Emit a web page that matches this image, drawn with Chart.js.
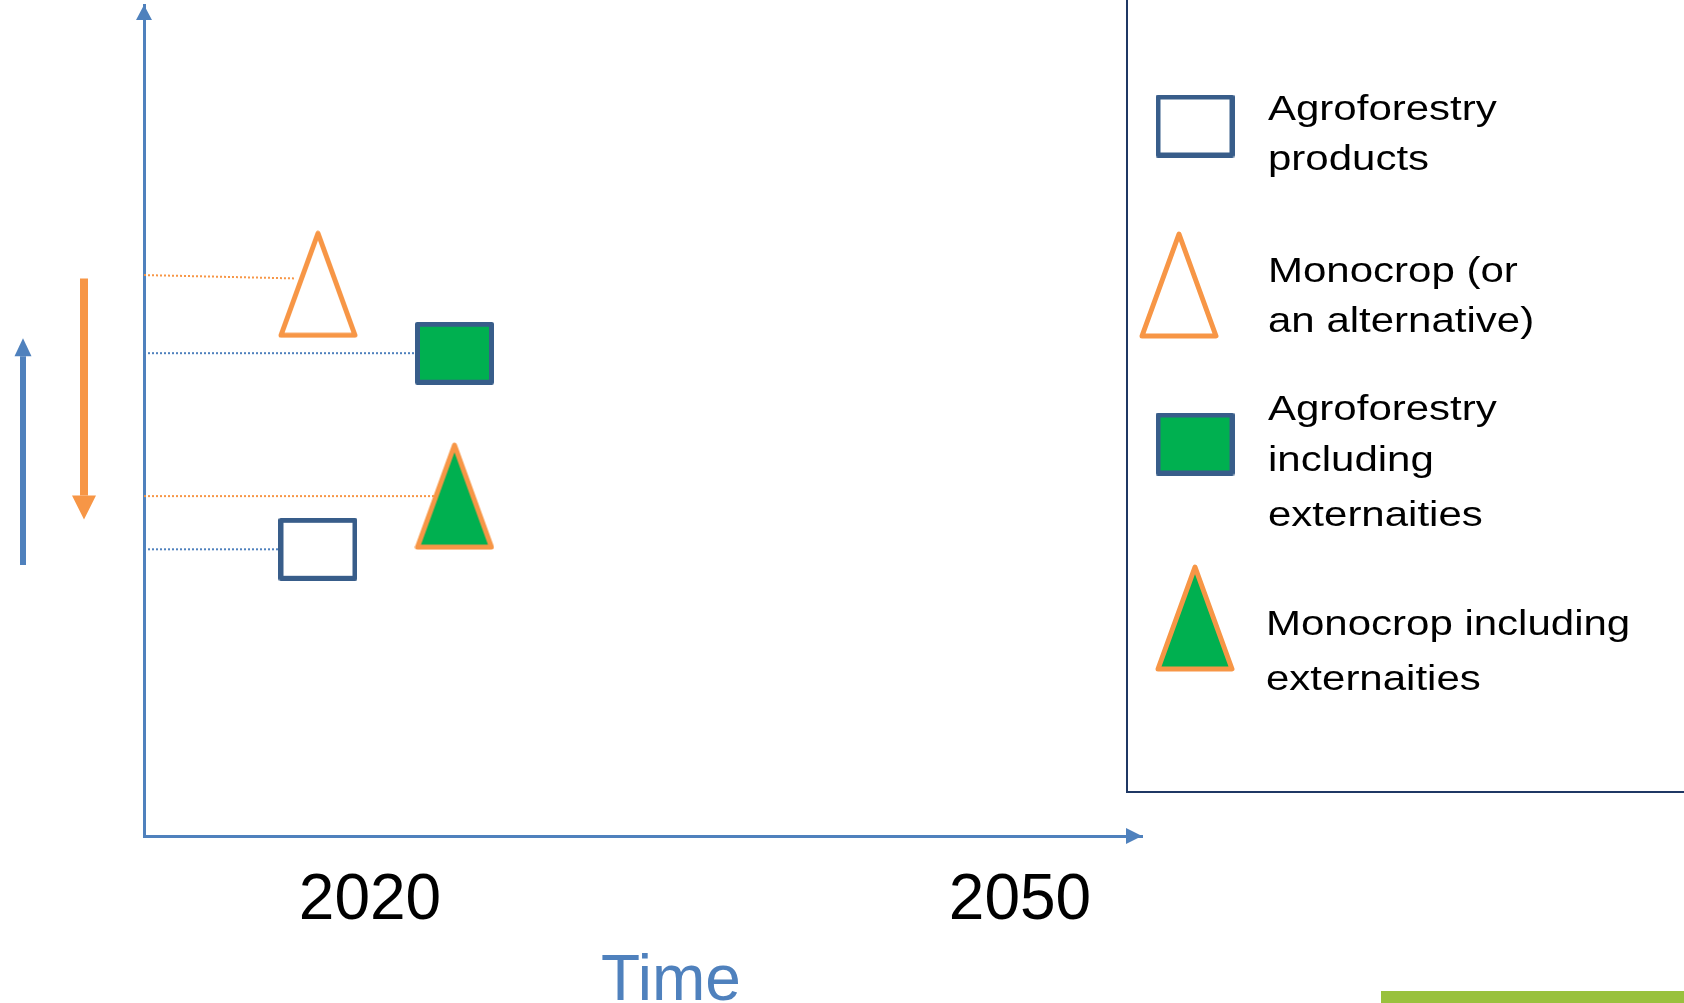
<!DOCTYPE html>
<html>
<head>
<meta charset="utf-8">
<script src="https://cdn.jsdelivr.net/npm/chart.js@4.4.1/dist/chart.umd.min.js"></script>
<style>
    html, body { margin: 0; padding: 0; background: #fff; overflow: hidden; }
    #wrap { width: 1684px; height: 1003px; }
</style>
</head>
<body>
<div id="wrap"><canvas id="myChart" width="1684" height="1003"></canvas></div>
<script>
// chart data
const seriesNames = ['Agroforestry products', 'Monocrop (or an alternative)', 'Agroforestry including externaities', 'Monocrop including externaities'];
const legendLines = [['Agroforestry', 'products'], ['Monocrop (or', 'an alternative)'], ['Agroforestry', 'including', 'externaities'], ['Monocrop including', 'externaities']];
const seriesX = [2017.6, 2017.6, 2023.9, 2023.9];
const seriesY = [34.5, 66.4, 58.1, 40.9];
// dotted guide lines: start at the y axis, end at the marker
const guideStartY = [34.5, 67.5, 58.1, 40.9];
const guideEndY = [34.5, 67.1, 58.1, 40.9];
const guideEndX = [2017.6, 2016.5, 2023.9, 2023.9];
const tickYears = [2020, 2050];
const xRange = [2009.57, 2055.63];
const yRange = [0, 100];
// side arrows (from, to) in y values
const blueArrow = [32.6, 59.9];
const orangeArrow = [67.1, 38.1];

const FONT = "'Liberation Sans', Arial, sans-serif";
const BLUE = '#4F81BD';
const DARKBLUE = '#385D8A';
const ORANGE = '#F79646';
const GREEN = '#00B050';

function makeMarker(shape, fill, stroke) {
    const c = document.createElement('canvas');
    if (shape === 'rect') {
        c.width = 79; c.height = 63;
    } else {
        c.width = 80; c.height = 108;
    }
    const ctx = c.getContext('2d');
    ctx.lineWidth = 5;
    ctx.lineJoin = 'round';
    ctx.strokeStyle = stroke;
    ctx.fillStyle = fill;
    ctx.beginPath();
    if (shape === 'rect') {
        ctx.rect(2.5, 2.5, 74, 58);
    } else {
        ctx.moveTo(40, 3);
        ctx.lineTo(77, 105);
        ctx.lineTo(3, 105);
        ctx.closePath();
    }
    ctx.fill();
    ctx.stroke();
    return c;
}

const markers = [
    makeMarker('rect', '#ffffff', DARKBLUE),
    makeMarker('tri', '#ffffff', ORANGE),
    makeMarker('rect', GREEN, DARKBLUE),
    makeMarker('tri', GREEN, ORANGE)
];
const guideColors = [BLUE, ORANGE, BLUE, ORANGE];

function drawArrow(ctx, x, y1, y2, width, headW, headL, color) {
    const dir = y2 < y1 ? -1 : 1;
    ctx.save();
    ctx.strokeStyle = color;
    ctx.fillStyle = color;
    ctx.lineWidth = width;
    ctx.beginPath();
    ctx.moveTo(x, y1);
    ctx.lineTo(x, y2 - dir * headL);
    ctx.stroke();
    ctx.beginPath();
    ctx.moveTo(x, y2);
    ctx.lineTo(x - headW / 2, y2 - dir * headL);
    ctx.lineTo(x + headW / 2, y2 - dir * headL);
    ctx.closePath();
    ctx.fill();
    ctx.restore();
}

const decorPlugin = {
    id: 'decor',
    afterDraw(chart) {
        const ctx = chart.ctx;
        const area = chart.chartArea;
        const yS = chart.scales.y;

        // axis arrowheads
        ctx.save();
        ctx.fillStyle = BLUE;
        ctx.beginPath();
        ctx.moveTo(area.left, area.top);
        ctx.lineTo(area.left - 8, area.top + 15);
        ctx.lineTo(area.left + 8, area.top + 15);
        ctx.closePath();
        ctx.fill();
        ctx.beginPath();
        ctx.moveTo(area.right, area.bottom);
        ctx.lineTo(area.right - 16, area.bottom - 8);
        ctx.lineTo(area.right - 16, area.bottom + 8);
        ctx.closePath();
        ctx.fill();
        ctx.restore();

        // side arrows
        drawArrow(ctx, area.left - 121, yS.getPixelForValue(blueArrow[0]), yS.getPixelForValue(blueArrow[1]), 6, 17, 18, BLUE);
        drawArrow(ctx, area.left - 60, yS.getPixelForValue(orangeArrow[0]), yS.getPixelForValue(orangeArrow[1]), 8, 24, 24, ORANGE);

        // axis title
        ctx.save();
        ctx.fillStyle = BLUE;
        ctx.font = '64px ' + FONT;
        ctx.textAlign = 'center';
        ctx.textBaseline = 'alphabetic';
        ctx.fillText('Time', 671, 1000);
        ctx.restore();

        // legend box
        ctx.save();
        ctx.strokeStyle = '#1F3864';
        ctx.lineWidth = 2;
        ctx.strokeRect(1127, -10, 600, 802);
        const iconCenters = [[1195, 126], [1179, 285], [1195, 444], [1195, 618]];
        const baselines = [[120, 170], [282, 332], [420, 471, 526], [635, 690]];
        const textX = [1268, 1268, 1268, 1266];
        ctx.fillStyle = '#000';
        ctx.font = '35px ' + FONT;
        ctx.textBaseline = 'alphabetic';
        legendLines.forEach((lines, i) => {
            const m = markers[i];
            ctx.drawImage(m, iconCenters[i][0] - m.width / 2, iconCenters[i][1] - m.height / 2);
            lines.forEach((t, j) => {
                ctx.save();
                ctx.translate(textX[i], baselines[i][j]);
                ctx.scale(1.2, 1);
                ctx.fillText(t, 0, 0);
                ctx.restore();
            });
        });
        ctx.restore();

        // green strip in the corner
        ctx.save();
        ctx.fillStyle = '#99C13D';
        ctx.fillRect(1381, 991, 303, 12);
        ctx.restore();
    }
};

const datasets = [];
seriesNames.forEach((name, i) => {
    datasets.push({
        type: 'line',
        label: name + ' guide',
        data: [{ x: xRange[0], y: guideStartY[i] }, { x: guideEndX[i], y: guideEndY[i] }],
        borderColor: guideColors[i],
        borderWidth: 2,
        borderDash: [2, 2],
        pointRadius: 0,
        fill: false,
        order: 10
    });
});
seriesNames.forEach((name, i) => {
    datasets.push({
        type: 'scatter',
        label: name,
        data: [{ x: seriesX[i], y: seriesY[i] }],
        pointStyle: markers[i],
        pointRadius: 40,
        order: 0
    });
});

const ctx = document.getElementById('myChart').getContext('2d');
const chartInstance = new Chart(ctx, {
    type: 'scatter',
    data: { datasets: datasets },
    options: {
        responsive: false,
        animation: false,
        devicePixelRatio: 1,
        events: [],
        clip: false,
        layout: { autoPadding: false, padding: { left: 0, top: 5, right: 1684 - 1142, bottom: 0 } },
        plugins: {
            legend: { display: false },
            tooltip: { enabled: false },
            title: { display: false }
        },
        scales: {
            x: {
                type: 'linear',
                position: 'bottom',
                min: xRange[0],
                max: xRange[1],
                grid: { display: false, drawTicks: false, tickLength: 0 },
                border: { display: true, color: BLUE, width: 3 },
                afterBuildTicks: axis => { axis.ticks = tickYears.map(v => ({ value: v })); },
                afterFit: axis => { axis.height = 167; },
                ticks: {
                    color: '#000',
                    font: { family: FONT, size: 64 },
                    padding: 27,
                    maxRotation: 0,
                    autoSkip: false,
                    callback: v => String(v)
                }
            },
            y: {
                type: 'linear',
                position: 'left',
                min: yRange[0],
                max: yRange[1],
                grid: { display: false, drawTicks: false, tickLength: 0 },
                border: { display: true, color: BLUE, width: 3 },
                ticks: { display: false },
                afterFit: axis => { axis.width = 144; }
            }
        }
    },
    plugins: [decorPlugin]
});
</script>
</body>
</html>
